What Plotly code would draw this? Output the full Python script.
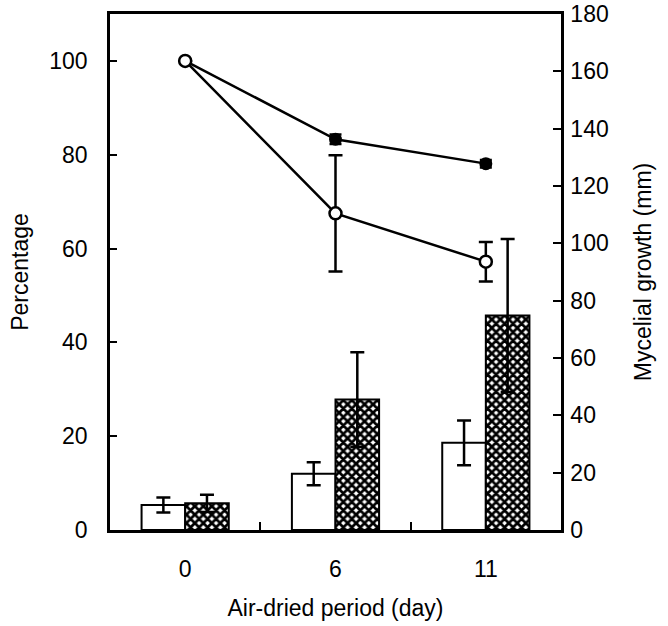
import plotly.graph_objects as go

days = ["0", "6", "11"]

# Bars: mycelial growth (mm), right axis
white_bar = [8.7, 19.6, 30.4]
white_err = [2.6, 4.0, 7.8]
hatched_bar = [9.3, 45.5, 74.8]
hatched_err = [3.0, 16.5, 26.7]

# Lines: percentage, left axis
open_line = [100, 67.5, 57.2]
open_err = [0, 12.4, 4.2]
filled_line = [100, 83.3, 78.1]
filled_err = [0, 1.0, 0.8]

font_family = "Liberation Sans, Arial, sans-serif"
FS = 23

fig = go.Figure()

fig.add_trace(go.Bar(
    x=days, y=white_bar, yaxis="y2", name="white",
    marker=dict(color="white", line=dict(color="black", width=2)),
    error_y=dict(type="data", array=white_err, color="black", thickness=2.5, width=7),
))
fig.add_trace(go.Bar(
    x=days, y=hatched_bar, yaxis="y2", name="hatched",
    marker=dict(color="black", line=dict(color="black", width=2),
                pattern=dict(shape="x", fgcolor="black", bgcolor="white",
                             size=6, solidity=0.7, fillmode="replace")),
    error_y=dict(type="data", array=hatched_err, color="black", thickness=2.5, width=7),
))
fig.add_trace(go.Scatter(
    x=days, y=filled_line, yaxis="y", mode="lines+markers", name="filled",
    line=dict(color="black", width=2.5),
    marker=dict(symbol="circle", size=11, color="black", line=dict(color="black", width=2)),
    error_y=dict(type="data", array=filled_err, color="black", thickness=2.5, width=6),
))
fig.add_trace(go.Scatter(
    x=days, y=open_line, yaxis="y", mode="lines+markers", name="open",
    line=dict(color="black", width=2.5),
    marker=dict(symbol="circle", size=12, color="white", line=dict(color="black", width=2.5)),
    error_y=dict(type="data", array=open_err, color="black", thickness=2.5, width=7),
))

fig.update_layout(
    width=668, height=626,
    margin=dict(l=110, r=107, t=14, b=96),
    plot_bgcolor="white", paper_bgcolor="white",
    showlegend=False,
    barmode="group", bargap=0.42, bargroupgap=0,
    font=dict(family=font_family, size=FS, color="black"),
    xaxis=dict(
        type="category", range=[-0.5, 2.5], automargin=False,
        showline=True, linecolor="black", linewidth=2.5, mirror=True,
        ticks="inside", tickson="boundaries", ticklen=8, tickwidth=1.5, tickcolor="black",
        showgrid=False, zeroline=False, ticklabelstandoff=17,
        title=dict(text="Air-dried period (day)", standoff=19, font=dict(size=FS)),
        tickfont=dict(size=FS),
    ),
    yaxis=dict(
        range=[0, 110], dtick=20, tick0=0, automargin=False,
        showline=True, linecolor="black", linewidth=2.5, mirror=True,
        ticks="inside", ticklen=7, tickwidth=1.5, tickcolor="black",
        showgrid=False, zeroline=False, ticklabelstandoff=15,
        title=dict(text="Percentage", standoff=15, font=dict(size=FS)),
        tickfont=dict(size=FS),
    ),
    yaxis2=dict(
        range=[0, 180], dtick=20, tick0=0, automargin=False,
        overlaying="y", side="right",
        showline=True, linecolor="black", linewidth=2.5,
        ticks="inside", ticklen=8, tickwidth=1.5, tickcolor="black",
        showgrid=False, zeroline=False, ticklabelstandoff=2,
        title=dict(text="Mycelial growth (mm)", standoff=28, font=dict(size=FS)),
        tickfont=dict(size=FS),
    ),
)

fig.write_html("out.html", config={"displayModeBar": False},
               post_script="document.body.style.margin='0';")
